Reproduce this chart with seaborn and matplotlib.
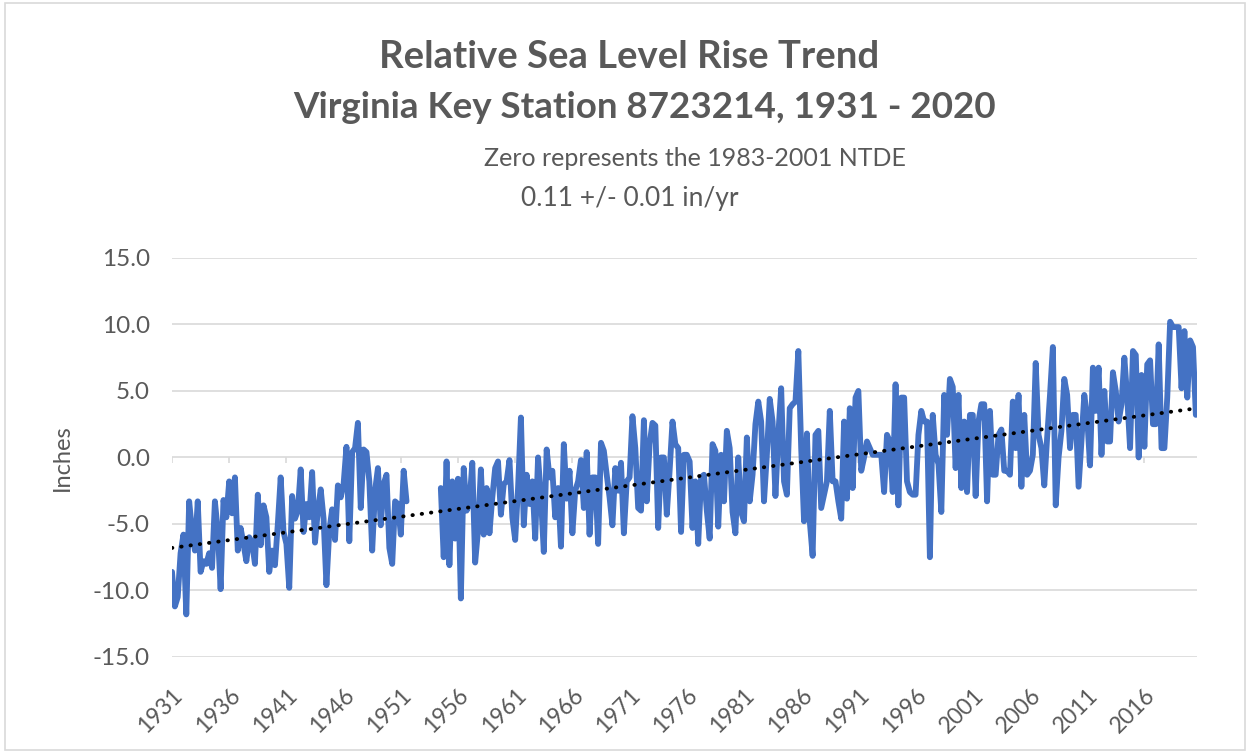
import numpy as np
import pandas as pd
import matplotlib
matplotlib.use("Agg")
import matplotlib.pyplot as plt
import seaborn as sns

# quarterly sea level (inches)
# first run: 1931 Q1 .. 1951 Q3
start_a = 1931.0
levels_a = [
    -8.6, -11.2, -10.5, -7.2,   # 1931
    -5.8, -11.8, -3.3, -5.5,    # 1932
    -7.0, -3.3, -8.6, -7.8,     # 1933
    -8.0, -7.2, -8.3, -3.3,     # 1934
    -5.5, -9.9, -3.2, -4.5,     # 1935
    -1.8, -4.2, -1.5, -7.0,     # 1936
    -5.3, -6.5, -7.8, -6.0,     # 1937
    -6.4, -8.0, -2.8, -6.6,     # 1938
    -3.6, -4.5, -8.6, -7.0,     # 1939
    -8.1, -5.0, -1.5, -5.6,     # 1940
    -6.5, -9.8, -2.9, -4.6,     # 1941
    -4.0, -0.9, -5.6, -3.5,     # 1942
    -4.5, -1.1, -6.4, -4.0,     # 1943
    -2.4, -4.6, -9.6, -5.5,     # 1944
    -3.9, -6.2, -2.1, -3.0,     # 1945
    -2.0, 0.8, -6.3, 0.4,       # 1946
    0.7, 2.6, -3.8, 0.6,        # 1947
    0.4, -1.8, -7.0, -2.5,      # 1948
    -0.8, -5.1, -2.0, -1.3,     # 1949
    -6.8, -8.0, -3.3, -3.5,     # 1950
    -5.8, -1.0, -3.3,           # 1951
]

# second run: 1954 Q3 .. 2020 Q3
start_b = 1954.5
levels_1950s = [
    -2.3, -7.5,                 # 1954
    -0.3, -8.1, -1.8, -6.1,     # 1955
    -1.6, -10.6, -0.8, -4.0,    # 1956
    -3.5, -0.4, -7.9, -5.5,     # 1957
    -0.9, -5.8, -2.3, -5.7,     # 1958
    -3.0, -0.8, -0.3, -4.3,     # 1959
]
levels_1960s = [
    -2.0, -1.8, -0.2, -4.5,
    -6.2, -2.3, 3.0, -5.1,
    -1.3, -3.5, -1.8, -6.1,
    0.0, -3.0, -7.1, 0.6,
    -1.5, -1.0, -4.5, -2.3,
    -6.7, 1.0, -3.1, -1.0,
    -5.7, -2.5, -1.8, -0.2,
    -3.8, 0.4, -5.8, -1.5,
    -1.5, -6.5, 1.1, 0.5,
    -1.3, -3.0, -5.1, -0.8,
]
levels_1970s = [
    -2.5, -0.4, -5.7, -1.8,
    -1.5, 3.1, 0.7, -3.8,
    -4.0, 2.8, -3.3, 1.0,
    2.6, 2.4, -5.3, 0.0,
    0.0, -4.3, -1.0, 2.7,
    1.0, 0.7, -5.6, 0.2,
    0.2, -0.3, -5.3, -1.8,
    -6.5, -1.5, -1.3, -4.0,
    -6.1, 1.0, 0.5, -5.2,
    0.2, -3.3, 2.0, 0.7,
]
levels_1980s = [
    -4.1, -5.7, 0.0, -4.1,
    -4.8, 1.5, -3.3, -1.3,
    2.5, 4.2, 2.7, -3.3,
    0.2, 4.4, 2.7, -2.9,
    1.7, 5.2, -1.8, -2.8,
    3.7, 4.0, 4.2, 8.0,
    0.7, -4.8, 1.8, -4.8,
    -7.4, 1.7, 2.0, -3.8,
    -2.8, -1.8, 3.5, -1.8,
    -1.8, -3.3, -4.6, 2.7,
]
levels_1990s = [
    -3.1, 3.7, -2.3, 4.5,
    5.0, -1.0, 0.0, 1.2,
    0.7, 0.2, 0.2, 0.2,
    0.2, -2.6, 1.7, 1.2,
    -2.6, 5.5, -3.6, 4.5,
    4.5, -1.8, -2.6, -2.8,
    -2.8, 1.7, 3.5, 2.7,
    2.7, -7.5, 3.2, 0.2,
    -0.5, -4.1, 4.7, 1.7,
    5.9, 5.3, -0.8, 4.7,
]
levels_2000s = [
    -2.3, 2.7, -2.6, 3.2,
    3.2, -2.9, 2.7, 4.0,
    4.0, -3.3, 3.5, -1.3,
    -1.3, 1.7, 2.1, -1.0,
    -1.0, -1.3, 4.2, 0.7,
    4.7, -2.2, 3.2, -1.3,
    -1.0, 0.2, 7.1, 1.7,
    0.7, -2.1, 1.5, 4.7,
    8.3, -3.6, 0.0, 2.0,
    5.9, 4.7, 0.7, 3.2,
]
levels_2010s = [
    3.2, -2.2, 1.2, 4.7,
    3.0, -0.6, 6.75, 3.5,
    6.75, 0.2, 5.0, 1.2,
    1.2, 6.4, 5.0, 2.7,
    4.0, 7.5, 4.5, 0.7,
    8.0, 7.7, 0.0, 6.2,
    0.8, 7.0, 7.3, 2.5,
    2.5, 8.5, 0.7, 0.7,
    4.5, 10.2, 9.8, 9.8,
    9.8, 5.2, 9.5, 4.5,
]
levels_2020 = [8.8, 8.3, 3.2]

# linear trend as drawn on the chart (end points)
trend_years = [1931.0, 2020.6]
trend_inches = [-6.8, 3.7]

tick_years = list(range(1931, 2020, 5))
y_ticks = [15, 10, 5, 0, -5, -10, -15]

levels_b = levels_1950s + levels_1960s + levels_1970s + levels_1980s + levels_1990s + levels_2000s + levels_2010s + levels_2020
df = pd.concat([
    pd.DataFrame({"year": start_a + 0.25 * np.arange(len(levels_a)), "inches": levels_a, "run": "a"}),
    pd.DataFrame({"year": start_b + 0.25 * np.arange(len(levels_b)), "inches": levels_b, "run": "b"}),
], ignore_index=True)

sns.set_style("white")
plt.rcParams["font.family"] = ["Lato", "DejaVu Sans"]
grey = "#595959"
grid = "#d9d9d9"

fig = plt.figure(figsize=(12.5, 7.53), dpi=100)
ax = fig.add_axes([0.1376, 0.1275, 0.82, 0.53])

for y in y_ticks:
    ax.axhline(y, color=grid, lw=1.2, zorder=0)
ax.vlines(tick_years, -0.45, 0, color=grid, lw=1.2, zorder=0)

sns.lineplot(data=df, x="year", y="inches", units="run", estimator=None,
             color="#4472c4", lw=4.2, ax=ax, zorder=2)
sns.lineplot(x=trend_years, y=trend_inches, color="black", lw=2.8, ax=ax, zorder=3,
             linestyle=(0, (0.1, 2.3)), dash_capstyle="round")

ax.set_xlim(1931, df["year"].max() + 0.1)
ax.set_ylim(-15, 15)
ax.set_yticks(y_ticks)
ax.set_yticklabels([f"{v:.1f}" for v in y_ticks], color=grey, fontsize=17.5)
ax.set_xticks(tick_years)
ax.set_xticklabels([str(t) for t in tick_years], rotation=45, ha="right",
                   rotation_mode="anchor", color=grey, fontsize=16.5)
ax.tick_params(length=0, pad=16)
ax.tick_params(axis="x", pad=20)
ax.set_xlabel("")
ax.set_ylabel("Inches", color=grey, fontsize=17, labelpad=14)
for s in ax.spines.values():
    s.set_visible(False)

fig.text(0.503, 0.924, "Relative Sea Level Rise Trend", ha="center", va="center",
         fontsize=27.5, fontweight="bold", color=grey)
fig.text(0.516, 0.857, "Virginia Key Station 8723214, 1931 - 2020", ha="center",
         va="center", fontsize=26.5, fontweight="bold", color=grey)
fig.text(0.556, 0.790, "Zero represents the 1983-2001 NTDE", ha="center", va="center",
         fontsize=18, color=grey)
fig.text(0.504, 0.736, "0.11 +/- 0.01 in/yr", ha="center", va="center",
         fontsize=19, color=grey)

fig.patches.append(plt.Rectangle((0.004, 0.004), 0.992, 0.992, transform=fig.transFigure,
                                 fill=False, edgecolor=grid, lw=1.2))

fig.savefig("out.png", dpi=100)
